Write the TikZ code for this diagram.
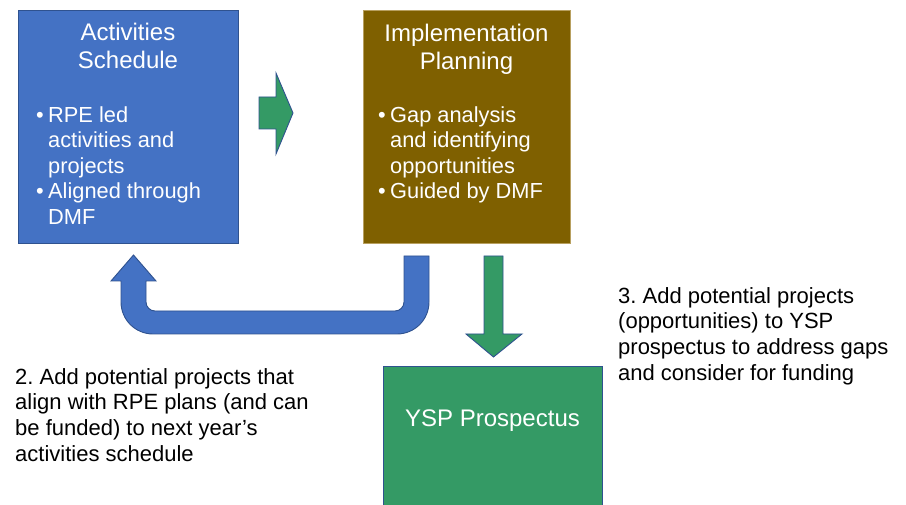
\documentclass[tikz,border=0pt]{standalone}
\usepackage{fontspec}
\setmainfont{Liberation Sans}
\frenchspacing
\definecolor{pblue}{HTML}{4472C4}
\definecolor{pborder}{HTML}{2F528F}
\definecolor{pbrown}{HTML}{7F6000}
\definecolor{pbrownedge}{HTML}{B8A060}
\definecolor{pgreen}{HTML}{349A65}
\tikzset{
  box/.style={line width=1pt},
  shapearrow/.style={fill=pgreen, draw=pborder, line width=0.9pt, line join=miter},
  titletext/.style={anchor=north, inner sep=0pt, align=center, text=white, font=\fontsize{24}{28}\selectfont},
  bullettext/.style={anchor=north west, inner sep=0pt, align=left, text=white, font=\fontsize{21.8}{25.5}\selectfont},
  labeltext/.style={anchor=north west, inner sep=0pt, align=left, text=black, font=\fontsize{22}{25.6}\selectfont}
}
\newcommand{\bul}{\makebox[12pt][l]{\textbullet}}
\newcommand{\ind}{\hspace*{12pt}}
\begin{document}
\begin{tikzpicture}[x=1pt,y=-1pt]
\clip (0,0) rectangle (906,505);
% boxes
\draw[box, fill=pblue, draw=pborder] (18,11) rectangle (238,244);
\draw[box, fill=pbrown, draw=pbrownedge] (363,11) rectangle (570,244);
\draw[box, fill=pgreen, draw=pborder] (383,367) rectangle (602,520);
% texts in boxes
\node[titletext] (acttitle) at (128,20.4) {\strut Activities\\Schedule};
\node[bullettext] (actlist) at (36,104.15) {\strut\bul RPE led\\\ind activities and\\\ind projects\\\bul Aligned through\\\ind DMF};
\node[titletext] (imptitle) at (466.5,21.4) {\strut Implementation\\Planning};
\node[bullettext] (implist) at (378,104.15) {\strut\bul Gap analysis\\\ind and identifying\\\ind opportunities\\\bul Guided by DMF};
\node[anchor=base, inner sep=0pt, text=white, font=\fontsize{24}{28}\selectfont] (ysp) at (492.5,426) {YSP Prospectus};
% right arrow between top boxes
\draw[shapearrow] (259,97) -- (276,97) -- (276,73) -- (293,113) -- (276,154) -- (276,129) -- (259,129) -- cycle;
% down arrow
\draw[shapearrow] (484,256) -- (503,256) -- (503,334) -- (522,334) -- (493.5,357) -- (466,334) -- (484,334) -- cycle;
% U-turn arrow
\draw[fill=pblue, draw=pborder, line width=0.9pt, line join=miter]
  (429,256) -- (429,302) arc[start angle=0, end angle=-90, radius=32pt]
  -- (153,334) arc[start angle=-90, end angle=-180, radius=32pt]
  -- (121,281) -- (111,281) -- (133.5,255) -- (156,281) -- (146,281)
  -- (146,302) arc[start angle=180, end angle=270, radius=9pt]
  -- (395,311) arc[start angle=270, end angle=360, radius=9pt]
  -- (404,256) -- cycle;
% labels
\node[labeltext] (lab2) at (15,366.1) {\strut 2. Add potential projects that\\align with RPE plans (and can\\be funded) to next year’s\\activities schedule};
\node[labeltext] (lab3) at (618,285.1) {\strut 3. Add potential projects\\(opportunities) to YSP\\prospectus to address gaps\\and consider for funding};
\end{tikzpicture}
\end{document}
